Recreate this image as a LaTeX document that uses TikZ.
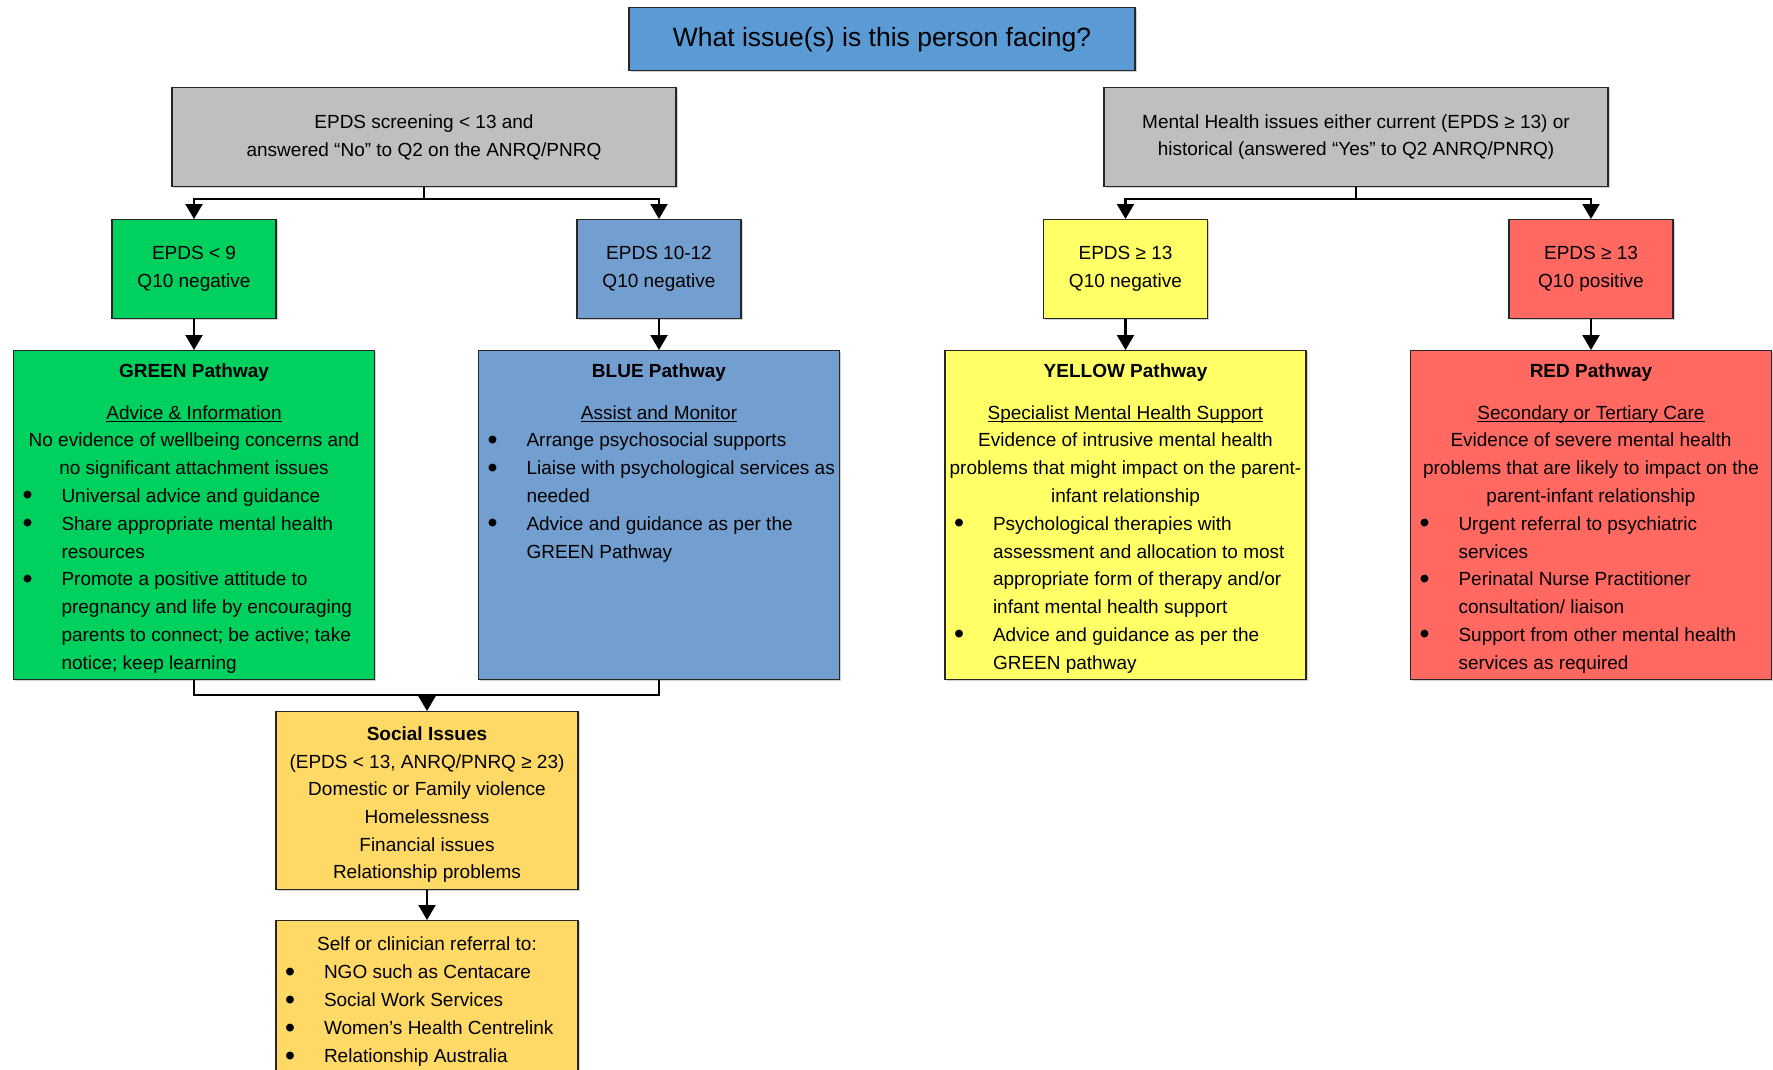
\documentclass[tikz,border=0pt]{standalone}
\usepackage{graphicx}
\usepackage{fontspec}
\setmainfont{Liberation Sans}
\usetikzlibrary{arrows.meta,shadows}
\definecolor{cTitle}{RGB}{91,155,213}
\definecolor{cGray}{RGB}{191,191,191}
\definecolor{cGreen}{RGB}{0,208,94}
\definecolor{cBlue}{RGB}{114,159,207}
\definecolor{cYellow}{RGB}{255,255,102}
\definecolor{cRed}{RGB}{255,105,97}
\definecolor{cSocial}{RGB}{255,217,102}
\definecolor{cBorder}{RGB}{38,38,38}
\newcommand\bigbul{\raisebox{-2.4pt}{\scalebox{1.5}{\textbullet}}}
\newcommand\Lc[1]{\hbox to\linewidth{\hss#1\hss}}
\newcommand\Lb[1]{\hbox to\linewidth{\hspace*{9pt}\hbox to 39pt{\bigbul\hss}#1\hss}}
\newcommand\Lt[1]{\hbox to\linewidth{\hspace*{48pt}#1\hss}}
\newcommand\Lfirst[1]{\rule{0pt}{#1}}
\newcommand\ulx[1]{\setbox0=\hbox{#1}\rlap{\rule[-2.6pt]{\wd0}{1.1pt}}\box0}
\begin{document}
\begin{tikzpicture}[x=1pt,y=-1pt,
  box/.style={draw=cBorder,line width=1.3pt,inner sep=0pt,anchor=north,
    drop shadow={shadow xshift=1.5pt,shadow yshift=-1.5pt,opacity=0.18,fill=black}},
  txt/.style={font=\fontsize{19}{27.8}\selectfont,align=center},
  conn/.style={line width=2.2pt,draw=black},
  arr/.style={conn,-{Triangle[width=17pt,length=15pt]}}]
\useasboundingbox[fill=white] (0,0) rectangle (1773,1069);

% title
\node[box,fill=cTitle,minimum width=506pt,minimum height=63pt,
  font=\fontsize{26.5}{30}\selectfont] (title) at (882,7) {What issue(s) is this person facing?};

% gray
\node[box,txt,fill=cGray,minimum width=504pt,minimum height=99pt] (lg) at (424,87)
  {EPDS screening < 13 and\\answered “No” to Q2 on the ANRQ/PNRQ};
\node[box,txt,fill=cGray,minimum width=504pt,minimum height=99pt] (rg) at (1356,87)
  {Mental Health issues either current (EPDS ≥ 13) or\\historical (answered “Yes” to Q2 ANRQ/PNRQ)};

% small boxes
\node[box,txt,fill=cGreen,minimum width=164pt,minimum height=99pt] (gs) at (194,219) {EPDS < 9\\Q10 negative};
\node[box,txt,fill=cBlue,minimum width=164pt,minimum height=99pt] (bs) at (659,219) {EPDS 10-12\\Q10 negative};
\node[box,txt,fill=cYellow,minimum width=164pt,minimum height=99pt] (ys) at (1125.5,219) {EPDS ≥ 13\\Q10 negative};
\node[box,txt,fill=cRed,minimum width=164pt,minimum height=99pt] (rs) at (1591,219) {EPDS ≥ 13\\Q10 positive};

% pathways
\node[box,fill=cGreen,font=\fontsize{19}{27.8}\selectfont] (gp) at (194,350) {%
\begin{minipage}[c][329pt][t]{361pt}
\Lc{\Lfirst{27pt}\textbf{GREEN Pathway}}
\vspace{13.7pt}
\Lc{\ulx{Advice \& Information}}
\Lc{No evidence of wellbeing concerns and}
\Lc{no significant attachment issues}
\Lb{Universal advice and guidance}
\Lb{Share appropriate mental health}
\Lt{resources}
\Lb{Promote a positive attitude to}
\Lt{pregnancy and life by encouraging}
\Lt{parents to connect; be active; take}
\Lt{notice; keep learning}
\end{minipage}};

\node[box,fill=cBlue,font=\fontsize{19}{27.8}\selectfont] (bp) at (659,350) {%
\begin{minipage}[c][329pt][t]{361pt}
\Lc{\Lfirst{27pt}\textbf{BLUE Pathway}}
\vspace{13.7pt}
\Lc{\ulx{Assist and Monitor}}
\Lb{Arrange psychosocial supports}
\Lb{Liaise with psychological services as}
\Lt{needed}
\Lb{Advice and guidance as per the}
\Lt{GREEN Pathway}
\end{minipage}};

\node[box,fill=cYellow,font=\fontsize{19}{27.8}\selectfont] (yp) at (1125.5,350) {%
\begin{minipage}[c][329pt][t]{361pt}
\Lc{\Lfirst{27pt}\textbf{YELLOW Pathway}}
\vspace{13.7pt}
\Lc{\ulx{Specialist Mental Health Support}}
\Lc{Evidence of intrusive mental health}
\Lc{problems that might impact on the parent-}
\Lc{infant relationship}
\Lb{Psychological therapies with}
\Lt{assessment and allocation to most}
\Lt{appropriate form of therapy and/or}
\Lt{infant mental health support}
\Lb{Advice and guidance as per the}
\Lt{GREEN pathway}
\end{minipage}};

\node[box,fill=cRed,font=\fontsize{19}{27.8}\selectfont] (rp) at (1591,350) {%
\begin{minipage}[c][329pt][t]{361pt}
\Lc{\Lfirst{27pt}\textbf{RED Pathway}}
\vspace{13.7pt}
\Lc{\ulx{Secondary or Tertiary Care}}
\Lc{Evidence of severe mental health}
\Lc{problems that are likely to impact on the}
\Lc{parent-infant relationship}
\Lb{Urgent referral to psychiatric}
\Lt{services}
\Lb{Perinatal Nurse Practitioner}
\Lt{consultation/ liaison}
\Lb{Support from other mental health}
\Lt{services as required}
\end{minipage}};

% social
\node[box,fill=cSocial,font=\fontsize{19}{27.6}\selectfont] (soc) at (427,711) {%
\begin{minipage}[c][178pt][t]{302pt}
\Lc{\Lfirst{29pt}\textbf{Social Issues}}
\Lc{(EPDS < 13, ANRQ/PNRQ ≥ 23)}
\Lc{Domestic or Family violence}
\Lc{Homelessness}
\Lc{Financial issues}
\Lc{Relationship problems}
\end{minipage}};

\node[box,fill=cSocial,font=\fontsize{19}{28}\selectfont] (ref) at (427,920) {%
\begin{minipage}[c][180pt][t]{302pt}
\Lc{\Lfirst{30pt}Self or clinician referral to:}
\Lb{NGO such as Centacare}
\Lb{Social Work Services}
\Lb{Women’s Health Centrelink}
\Lb{Relationship Australia}
\end{minipage}};

% connectors
\draw[conn] (lg.south) -- ++(0,12) coordinate (lj);
\draw[arr] (lj) -| (gs.north);
\draw[arr] (lj) -| (bs.north);
\draw[conn] (rg.south) -- ++(0,12) coordinate (rj);
\draw[arr] (rj) -| (ys.north);
\draw[arr] (rj) -| (rs.north);
\draw[arr] (gs.south) -- (gp.north);
\draw[arr] (bs.south) -- (bp.north);
\draw[arr] (ys.south) -- (yp.north);
\draw[arr] (rs.south) -- (rp.north);
\draw[conn] (gp.south) -- ++(0,15) coordinate (gj) -| (bp.south);
\draw[arr] (gj -| soc.north) -- (soc.north);
\draw[arr] (soc.south) -- (ref.north);
\end{tikzpicture}
\end{document}
